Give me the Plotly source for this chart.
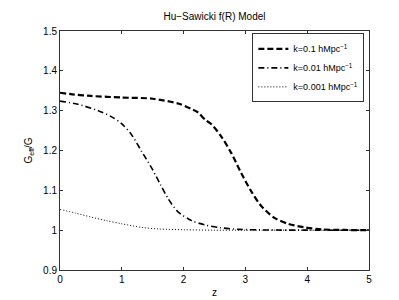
import plotly.graph_objects as go

z1 = [0.0, 0.2, 0.5, 1.0, 1.5, 1.91, 2.13, 2.23, 2.35, 2.45, 2.61, 2.77, 2.93, 3.1, 3.26, 3.47, 3.69, 3.96, 4.23, 4.6, 5.0]
g1 = [1.345, 1.341, 1.337, 1.333, 1.330, 1.318, 1.304, 1.296, 1.277, 1.266, 1.235, 1.194, 1.144, 1.096, 1.06, 1.031, 1.016, 1.007, 1.002, 1.0005, 1.0]

z2 = [0.0, 0.29, 0.62, 0.83, 1.0, 1.16, 1.32, 1.48, 1.62, 1.75, 1.91, 2.13, 2.35, 2.6, 2.9, 3.3, 4.0, 5.0]
g2 = [1.324, 1.316, 1.300, 1.285, 1.267, 1.239, 1.198, 1.157, 1.116, 1.079, 1.046, 1.024, 1.013, 1.006, 1.002, 1.0005, 1.0, 1.0]

z3 = [0.0, 0.25, 0.5, 0.75, 1.0, 1.32, 1.6, 2.0, 2.5, 3.0, 4.0, 5.0]
g3 = [1.052, 1.043, 1.033, 1.024, 1.016, 1.007, 1.003, 1.001, 1.0, 1.0, 1.0, 1.0]

names = ["k=0.1 hMpc<sup>−1</sup>", "k=0.01 hMpc<sup>−1</sup>", "k=0.001 hMpc<sup>−1</sup>"]

fig = go.Figure()
fig.add_trace(go.Scatter(x=z1, y=g1, mode="lines", name=names[0], line=dict(color="black", width=2.2, dash="6px,3px", shape="spline", smoothing=0.8)))
fig.add_trace(go.Scatter(x=z2, y=g2, mode="lines", name=names[1], line=dict(color="black", width=1.6, dash="6px,3px,1px,3px", shape="spline", smoothing=0.8)))
fig.add_trace(go.Scatter(x=z3, y=g3, mode="lines", name=names[2], line=dict(color="black", width=1, dash="1px,2px", shape="spline", smoothing=0.8)))

font = dict(family="Liberation Sans, Arial, sans-serif", size=10, color="black")
axis_common = dict(showline=True, linecolor="#333", linewidth=1, mirror="ticks", ticks="inside", ticklen=3, tickcolor="#333",
                   showgrid=False, zeroline=False, tickfont=dict(size=10, family=font["family"], color="black"))

fig.update_layout(
    width=399, height=300,
    margin=dict(l=52, r=38, t=23, b=33),
    paper_bgcolor="white", plot_bgcolor="white",
    font=font,
    showlegend=True,
    title=dict(text="Hu−Sawicki f(R) Model", x=0.5, xref="paper", xanchor="center", y=0.985, yanchor="top", font=dict(size=10)),
    legend=dict(x=0.985, y=0.99, xanchor="right", yanchor="top", bordercolor="#333", borderwidth=1, bgcolor="white",
                font=dict(size=9), tracegroupgap=0, itemwidth=30),
)
fig.update_xaxes(range=[0, 5], tickvals=[0, 1, 2, 3, 4, 5], title=dict(text="z", standoff=4, font=dict(size=10)), **axis_common)
fig.update_yaxes(range=[0.9, 1.5], tickvals=[0.9, 1.0, 1.1, 1.2, 1.3, 1.4, 1.5], ticktext=["0.9", "1", "1.1", "1.2", "1.3", "1.4", "1.5"],
                 title=dict(text="G<sub>eff</sub>/G", standoff=8, font=dict(size=10)), **axis_common)

fig.write_html("out.html")
